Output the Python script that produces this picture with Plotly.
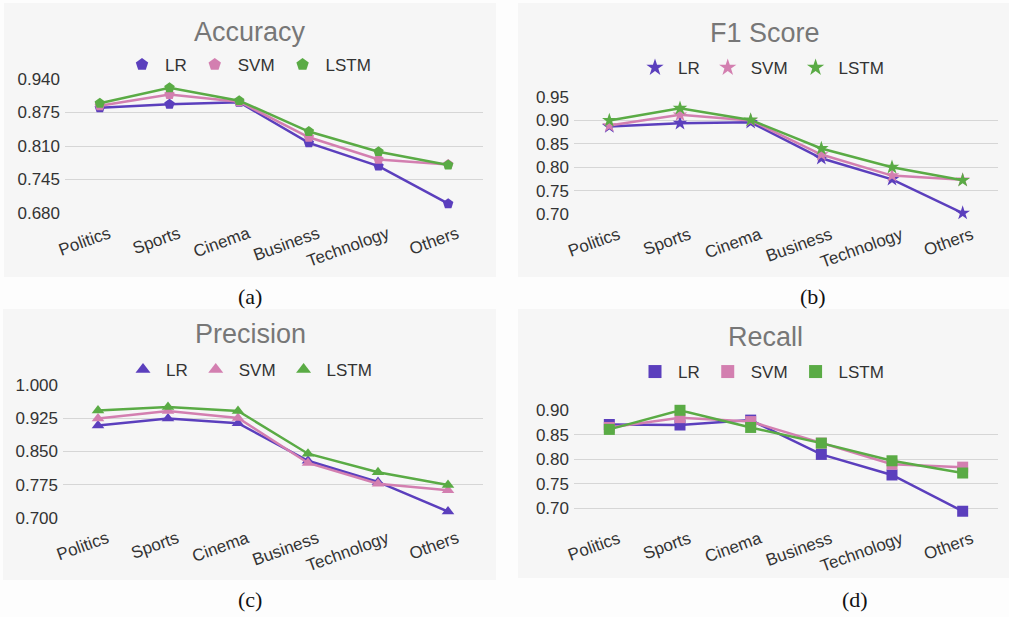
import plotly.graph_objects as go

W, H = 1009, 617

categories = ["Politics", "Sports", "Cinema", "Business", "Technology", "Others"]
models = ["LR", "SVM", "LSTM"]

acc_lr = [0.884, 0.891, 0.895, 0.816, 0.771, 0.698]
acc_svm = [0.888, 0.910, 0.896, 0.827, 0.784, 0.774]
acc_lstm = [0.893, 0.923, 0.898, 0.838, 0.799, 0.773]

f1_lr = [0.887, 0.894, 0.896, 0.819, 0.774, 0.702]
f1_svm = [0.889, 0.912, 0.900, 0.827, 0.782, 0.773]
f1_lstm = [0.900, 0.926, 0.901, 0.840, 0.800, 0.772]

prec_lr = [0.909, 0.925, 0.914, 0.829, 0.781, 0.714]
prec_svm = [0.925, 0.942, 0.926, 0.824, 0.777, 0.762]
prec_lstm = [0.943, 0.951, 0.942, 0.845, 0.803, 0.774]

rec_lr = [0.871, 0.870, 0.880, 0.810, 0.768, 0.694]
rec_svm = [0.865, 0.885, 0.877, 0.833, 0.790, 0.784]
rec_lstm = [0.861, 0.900, 0.865, 0.833, 0.797, 0.772]

titles = ["Accuracy", "F1 Score", "Precision", "Recall"]
captions = ["(a)", "(b)", "(c)", "(d)"]

acc_ticks = [0.680, 0.745, 0.810, 0.875, 0.940]
f1_ticks = [0.70, 0.75, 0.80, 0.85, 0.90, 0.95]
prec_ticks = [0.700, 0.775, 0.850, 0.925, 1.000]
rec_ticks = [0.70, 0.75, 0.80, 0.85, 0.90]

colors = ["#5b3fbd", "#d37fb0", "#5aab45"]


def px(x):
    return x / W


def py(y):
    return 1 - y / H


panels = [
    dict(series=[acc_lr, acc_svm, acc_lstm], ticks=acc_ticks, fmt=".3f", rng=[0.680, 0.940],
         xd=(65, 483), yd=(213, 79), symbol="pentagon", bg=(4, 3, 496, 277),
         title=(250, 32), leg=(142, 65), cap=(250, 296)),
    dict(series=[f1_lr, f1_svm, f1_lstm], ticks=f1_ticks, fmt=".2f", rng=[0.70, 0.95],
         xd=(574, 998), yd=(214, 97), symbol="star", bg=(518, 3, 1009, 277),
         title=(765, 33), leg=(655, 68), cap=(813, 296)),
    dict(series=[prec_lr, prec_svm, prec_lstm], ticks=prec_ticks, fmt=".3f", rng=[0.700, 1.000],
         xd=(63, 483), yd=(517.7, 385.3), symbol="triangle-up", bg=(3, 309, 496, 580),
         title=(250, 334), leg=(143, 370), cap=(250, 599)),
    dict(series=[rec_lr, rec_svm, rec_lstm], ticks=rec_ticks, fmt=".2f", rng=[0.68, 0.90],
         xd=(574, 998), yd=(518.1, 410.3), symbol="square", bg=(518, 309, 1009, 578),
         title=(765, 337), leg=(655, 372), cap=(855, 599)),
]

fig = go.Figure()
layout = dict(
    width=W, height=H,
    margin=dict(l=0, r=0, t=0, b=0, pad=0, autoexpand=False),
    paper_bgcolor="#fdfdfd",
    plot_bgcolor="rgba(0,0,0,0)",
    showlegend=True,
    font=dict(family="Liberation Sans, Arial", color="#333333"),
)
shapes = []
annotations = []

for i, p in enumerate(panels):
    n = i + 1
    xa = "x" if n == 1 else f"x{n}"
    ya = "y" if n == 1 else f"y{n}"
    lg = "legend" if n == 1 else f"legend{n}"
    for k, (name, vals) in enumerate(zip(models, p["series"])):
        fig.add_trace(go.Scatter(
            x=categories, y=vals, mode="lines+markers", name=name,
            xaxis=xa, yaxis=ya, showlegend=False, cliponaxis=False,
            line=dict(color=colors[k], width=2.5),
            marker=dict(symbol=p["symbol"], size=11, color=colors[k]),
        ))
    for k, name in enumerate(models):
        fig.add_trace(go.Scatter(
            x=[None], y=[None], mode="markers", name=name,
            xaxis=xa, yaxis=ya, legend=lg, showlegend=True,
            marker=dict(symbol=p["symbol"], size=13, color=colors[k]),
        ))
    layout[f"xaxis{'' if n == 1 else n}"] = dict(
        domain=[px(p["xd"][0]), px(p["xd"][1])], anchor=ya, automargin=False,
        range=[-0.5, 5.5], showgrid=False, zeroline=False, showline=False,
        tickangle=-20, tickfont=dict(size=17, color="#333333"), ticks="",
        ticklabelshift=9, ticklabelstandoff=7,
    )
    layout[f"yaxis{'' if n == 1 else n}"] = dict(
        domain=[py(p["yd"][0]), py(p["yd"][1])], anchor=xa, automargin=False,
        range=p["rng"], tickvals=p["ticks"], tickformat=p["fmt"],
        showgrid=True, gridcolor="#d6d6d6", gridwidth=1, zeroline=False,
        showline=False, ticks="", tickfont=dict(size=17, color="#333333"),
        ticklabelstandoff=4,
    )
    layout[lg] = dict(
        orientation="h", x=px(p["leg"][0] - 23), xanchor="left",
        y=py(p["leg"][1]), yanchor="middle",
        font=dict(size=17, color="#333333"), bgcolor="rgba(0,0,0,0)",
        itemwidth=36, tracegroupgap=0,
    )
    x0, y0, x1, y1 = p["bg"]
    shapes.append(dict(type="rect", xref="paper", yref="paper", layer="below",
                       x0=px(x0), x1=px(x1), y0=py(y1), y1=py(y0),
                       fillcolor="#f6f6f6", line=dict(width=0)))
    annotations.append(dict(text=titles[i], xref="paper", yref="paper",
                            x=px(p["title"][0]), y=py(p["title"][1]),
                            xanchor="center", yanchor="middle", showarrow=False,
                            font=dict(size=27, color="#777777",
                                      family="Liberation Sans, Arial")))
    annotations.append(dict(text=captions[i], xref="paper", yref="paper",
                            x=px(p["cap"][0]), y=py(p["cap"][1]),
                            xanchor="center", yanchor="middle", showarrow=False,
                            font=dict(size=22, color="#111111",
                                      family="Liberation Serif, Times New Roman")))

layout["shapes"] = shapes
layout["annotations"] = annotations
fig.update_layout(**layout)
fig.write_html("out.html",
               config={"displayModeBar": False},
               post_script="document.body.style.margin='0';document.body.style.overflow='hidden';")
